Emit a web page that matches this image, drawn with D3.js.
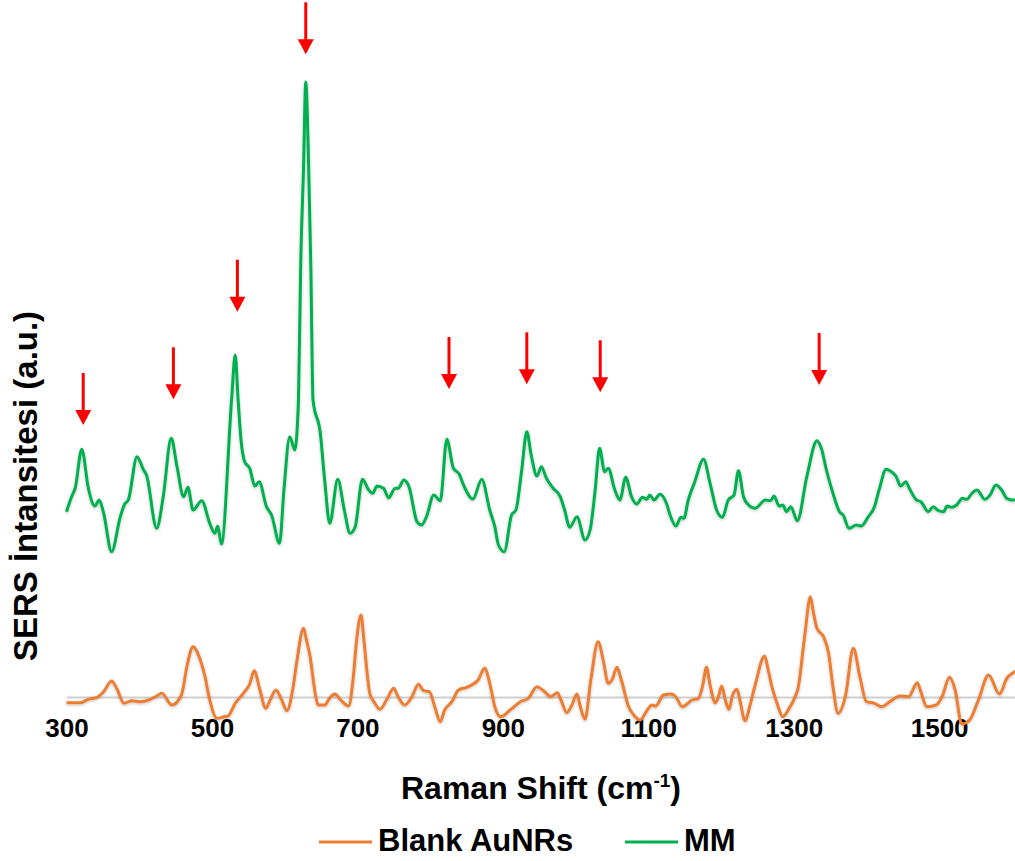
<!DOCTYPE html>
<html>
<head>
<meta charset="utf-8">
<script src="https://cdn.jsdelivr.net/npm/d3@7"></script>
<style>
  body { margin: 0; background: #fff; }
  text { font-family: Arial, "Liberation Sans", sans-serif; font-weight: bold; fill: #000; }
</style>
</head>
<body>
<div id="chart"></div>
<script>
// Raman shift (cm-1) / intensity (a.u.) pairs
const mmShift = [300,307,312,321,330,339,345,351,362,374,380,385,397,406,410,424,433,444,452,461,467,474,486,497,504,508,513,527,532,536,540,545,552,559,565,575,582,593,599,607,614,619,622,626,629,633,636,639,649,655,662,673,682,690,697,707,715,721,727,736,743,752,756,764,771,782,788,795,805,814,823,832,840,846,859,871,882,889,894,902,912,918,926,933,939,947,953,960,969,979,985,992,1002,1013,1020,1027,1033,1040,1045,1054,1061,1069,1077,1084,1092,1098,1102,1108,1116,1125,1130,1138,1145,1149,1155,1164,1176,1185,1194,1202,1210,1218,1224,1231,1238,1247,1261,1268,1273,1280,1285,1290,1296,1305,1318,1332,1338,1345,1354,1363,1368,1376,1386,1393,1402,1411,1418,1427,1436,1441,1447,1454,1459,1469,1475,1485,1492,1499,1506,1511,1517,1524,1532,1538,1545,1552,1563,1570,1578,1586,1593,1602,1605];
const mmIntensity = [1853,2003,2090,2477,2090,1910,1970,1840,1453,1803,1930,1970,2403,2270,2220,1687,2003,2587,2303,2003,2097,1870,1963,1737,1637,1710,1530,2970,3420,2970,2570,2353,2287,2110,2153,1903,1820,1537,2070,2603,2470,2970,4300,5300,6150,5300,4300,2970,2640,2170,1737,2177,1870,1637,1703,2177,2077,2037,2110,2087,1993,2087,2087,2170,2103,1753,1720,1803,2020,1963,2577,2287,2230,2120,1980,2177,1870,1703,1520,1453,1820,1870,2270,2653,2420,2210,2303,2187,2090,2003,1870,1697,1803,1570,1670,2070,2487,2253,2287,2070,1970,2197,2003,1930,1997,1977,2020,1970,2027,1937,1820,1710,1797,1787,1970,2153,2377,2137,1870,1797,1970,2020,2263,2003,1920,1887,1970,1963,2010,1910,1920,1853,1903,1763,2203,2563,2487,2270,2037,1853,1820,1687,1720,1710,1797,1903,2087,2277,2243,2203,2110,2153,2087,1970,1953,1853,1903,1863,1853,1910,1897,1920,1987,1977,2037,2070,1977,2020,2120,2070,1987,1970,1970];

const blankShift = [300,319,330,342,351,362,369,379,390,401,415,424,431,445,458,466,474,484,490,497,507,517,522,532,545,552,558,566,574,580,588,596,603,611,617,626,630,635,642,646,655,662,669,677,688,694,699,705,709,713,717,724,731,740,750,756,765,775,784,791,799,807,814,820,830,839,850,866,875,882,889,897,910,924,935,947,956,966,975,980,988,995,1002,1006,1013,1021,1031,1038,1045,1050,1057,1063,1073,1080,1089,1097,1105,1110,1121,1132,1138,1147,1160,1169,1175,1180,1185,1192,1196,1201,1206,1211,1216,1222,1226,1233,1240,1247,1260,1265,1270,1277,1285,1294,1301,1306,1315,1323,1327,1332,1341,1348,1354,1361,1371,1382,1391,1400,1411,1421,1432,1446,1458,1470,1475,1483,1496,1505,1514,1522,1531,1542,1554,1568,1583,1593,1602,1605];
const blankIntensity = [-57,-57,-23,-3,53,160,87,-63,-37,-47,-23,10,37,-80,20,320,503,370,220,-30,-213,-197,-190,-63,53,130,263,70,-113,-30,70,-30,-137,70,370,687,570,403,37,-80,-80,-10,30,-30,-90,170,570,820,570,270,37,-60,-123,-30,87,3,-80,3,127,63,53,-113,-247,-130,-47,70,97,170,287,137,-97,-197,-130,-47,-13,103,63,3,43,-30,-157,-80,30,-80,-223,170,553,370,137,170,297,170,-97,-180,-230,-150,-80,-90,20,30,0,-97,-30,-13,120,297,120,-57,-10,110,-30,-123,20,77,-30,-237,-80,120,410,270,103,-60,-197,-110,-13,87,603,1003,850,687,603,437,103,-163,3,487,203,-47,-63,-97,-47,10,3,143,50,-97,-80,20,197,70,-270,-230,-30,220,30,187,243,260];

// marked MM bands: position and arrow tip level
const arrowShift = [323, 447, 535, 629, 826, 933, 1034, 1335];
const arrowTip = [2720, 2977, 3853, 6427, 3080, 3127, 3047, 3120];

const tickValues = [300, 500, 700, 900, 1100, 1300, 1500];

const width = 1015, height = 861;

const svg = d3.select("#chart")
    .append("svg")
    .attr("width", width)
    .attr("height", height);

const defs = svg.append("defs");
defs.append("filter")
    .attr("id", "shadow")
    .attr("x", "-5%").attr("y", "-5%")
    .attr("width", "110%").attr("height", "110%")
    .append("feDropShadow")
    .attr("dx", 0).attr("dy", 1)
    .attr("stdDeviation", 1.6)
    .attr("flood-color", "#000")
    .attr("flood-opacity", 0.25);

const x = d3.scaleLinear().domain([300, 1605]).range([66.5, 1015.5]);
const y = d3.scaleLinear().domain([0, 6000]).range([697, 97]);

// horizontal axis sits on the blank baseline
const xAxis = svg.append("g")
    .attr("transform", `translate(0,${y(0)})`)
    .call(d3.axisBottom(x).tickValues(tickValues).tickSize(0).tickPadding(22).tickFormat(d3.format("d")));
xAxis.select(".domain").attr("stroke", "#d0d0d0").attr("stroke-width", 2);
xAxis.selectAll("text")
    .attr("font-size", 26)
    .attr("font-family", "Arial, 'Liberation Sans', sans-serif")
    .attr("font-weight", "bold")
    .attr("fill", "#000");

const line = d3.line()
    .x(d => x(d[0]))
    .y(d => y(d[1]))
    .curve(d3.curveMonotoneX);

const plot = svg.append("g").attr("filter", "url(#shadow)");

plot.append("path")
    .datum(d3.zip(blankShift, blankIntensity))
    .attr("fill", "none")
    .attr("stroke", "#ED7D31")
    .attr("stroke-width", 3)
    .attr("stroke-linejoin", "round")
    .attr("d", line);

plot.append("path")
    .datum(d3.zip(mmShift, mmIntensity))
    .attr("fill", "none")
    .attr("stroke", "#00B050")
    .attr("stroke-width", 3)
    .attr("stroke-linejoin", "round")
    .attr("d", line);

// red arrows
const arrows = svg.append("g")
    .selectAll("g")
    .data(d3.zip(arrowShift, arrowTip))
    .enter().append("g")
    .attr("transform", d => `translate(${x(d[0])},${y(d[1])})`);

arrows.append("line")
    .attr("x1", 0).attr("x2", 0)
    .attr("y1", -52).attr("y2", -12)
    .attr("stroke", "#FF0000")
    .attr("stroke-width", 3);

arrows.append("path")
    .attr("d", "M-8,-15 L8,-15 L0,0 Z")
    .attr("fill", "#FF0000");

// axis titles
const xTitle = svg.append("text")
    .attr("x", 541)
    .attr("y", 799)
    .attr("text-anchor", "middle")
    .attr("font-size", 32);
xTitle.append("tspan").text("Raman Shift (cm");
xTitle.append("tspan").attr("font-size", 19).attr("dy", -12).text("-1");
xTitle.append("tspan").attr("dy", 12).text(")");

svg.append("text")
    .attr("transform", "translate(37,486) rotate(-90)")
    .attr("text-anchor", "middle")
    .attr("font-size", 33)
    .text("SERS İntansitesi (a.u.)");

// legend
const legend = [
    { name: "Blank AuNRs", color: "#ED7D31", x0: 319 },
    { name: "MM", color: "#00B050", x0: 625 }
];
const lg = svg.append("g").selectAll("g")
    .data(legend)
    .enter().append("g");
lg.append("line")
    .attr("x1", d => d.x0).attr("x2", d => d.x0 + 53)
    .attr("y1", 842).attr("y2", 842)
    .attr("stroke", d => d.color)
    .attr("stroke-width", 3);
lg.append("text")
    .attr("x", d => d.x0 + 59)
    .attr("y", 851)
    .attr("font-size", 31)
    .text(d => d.name);
</script>
</body>
</html>
